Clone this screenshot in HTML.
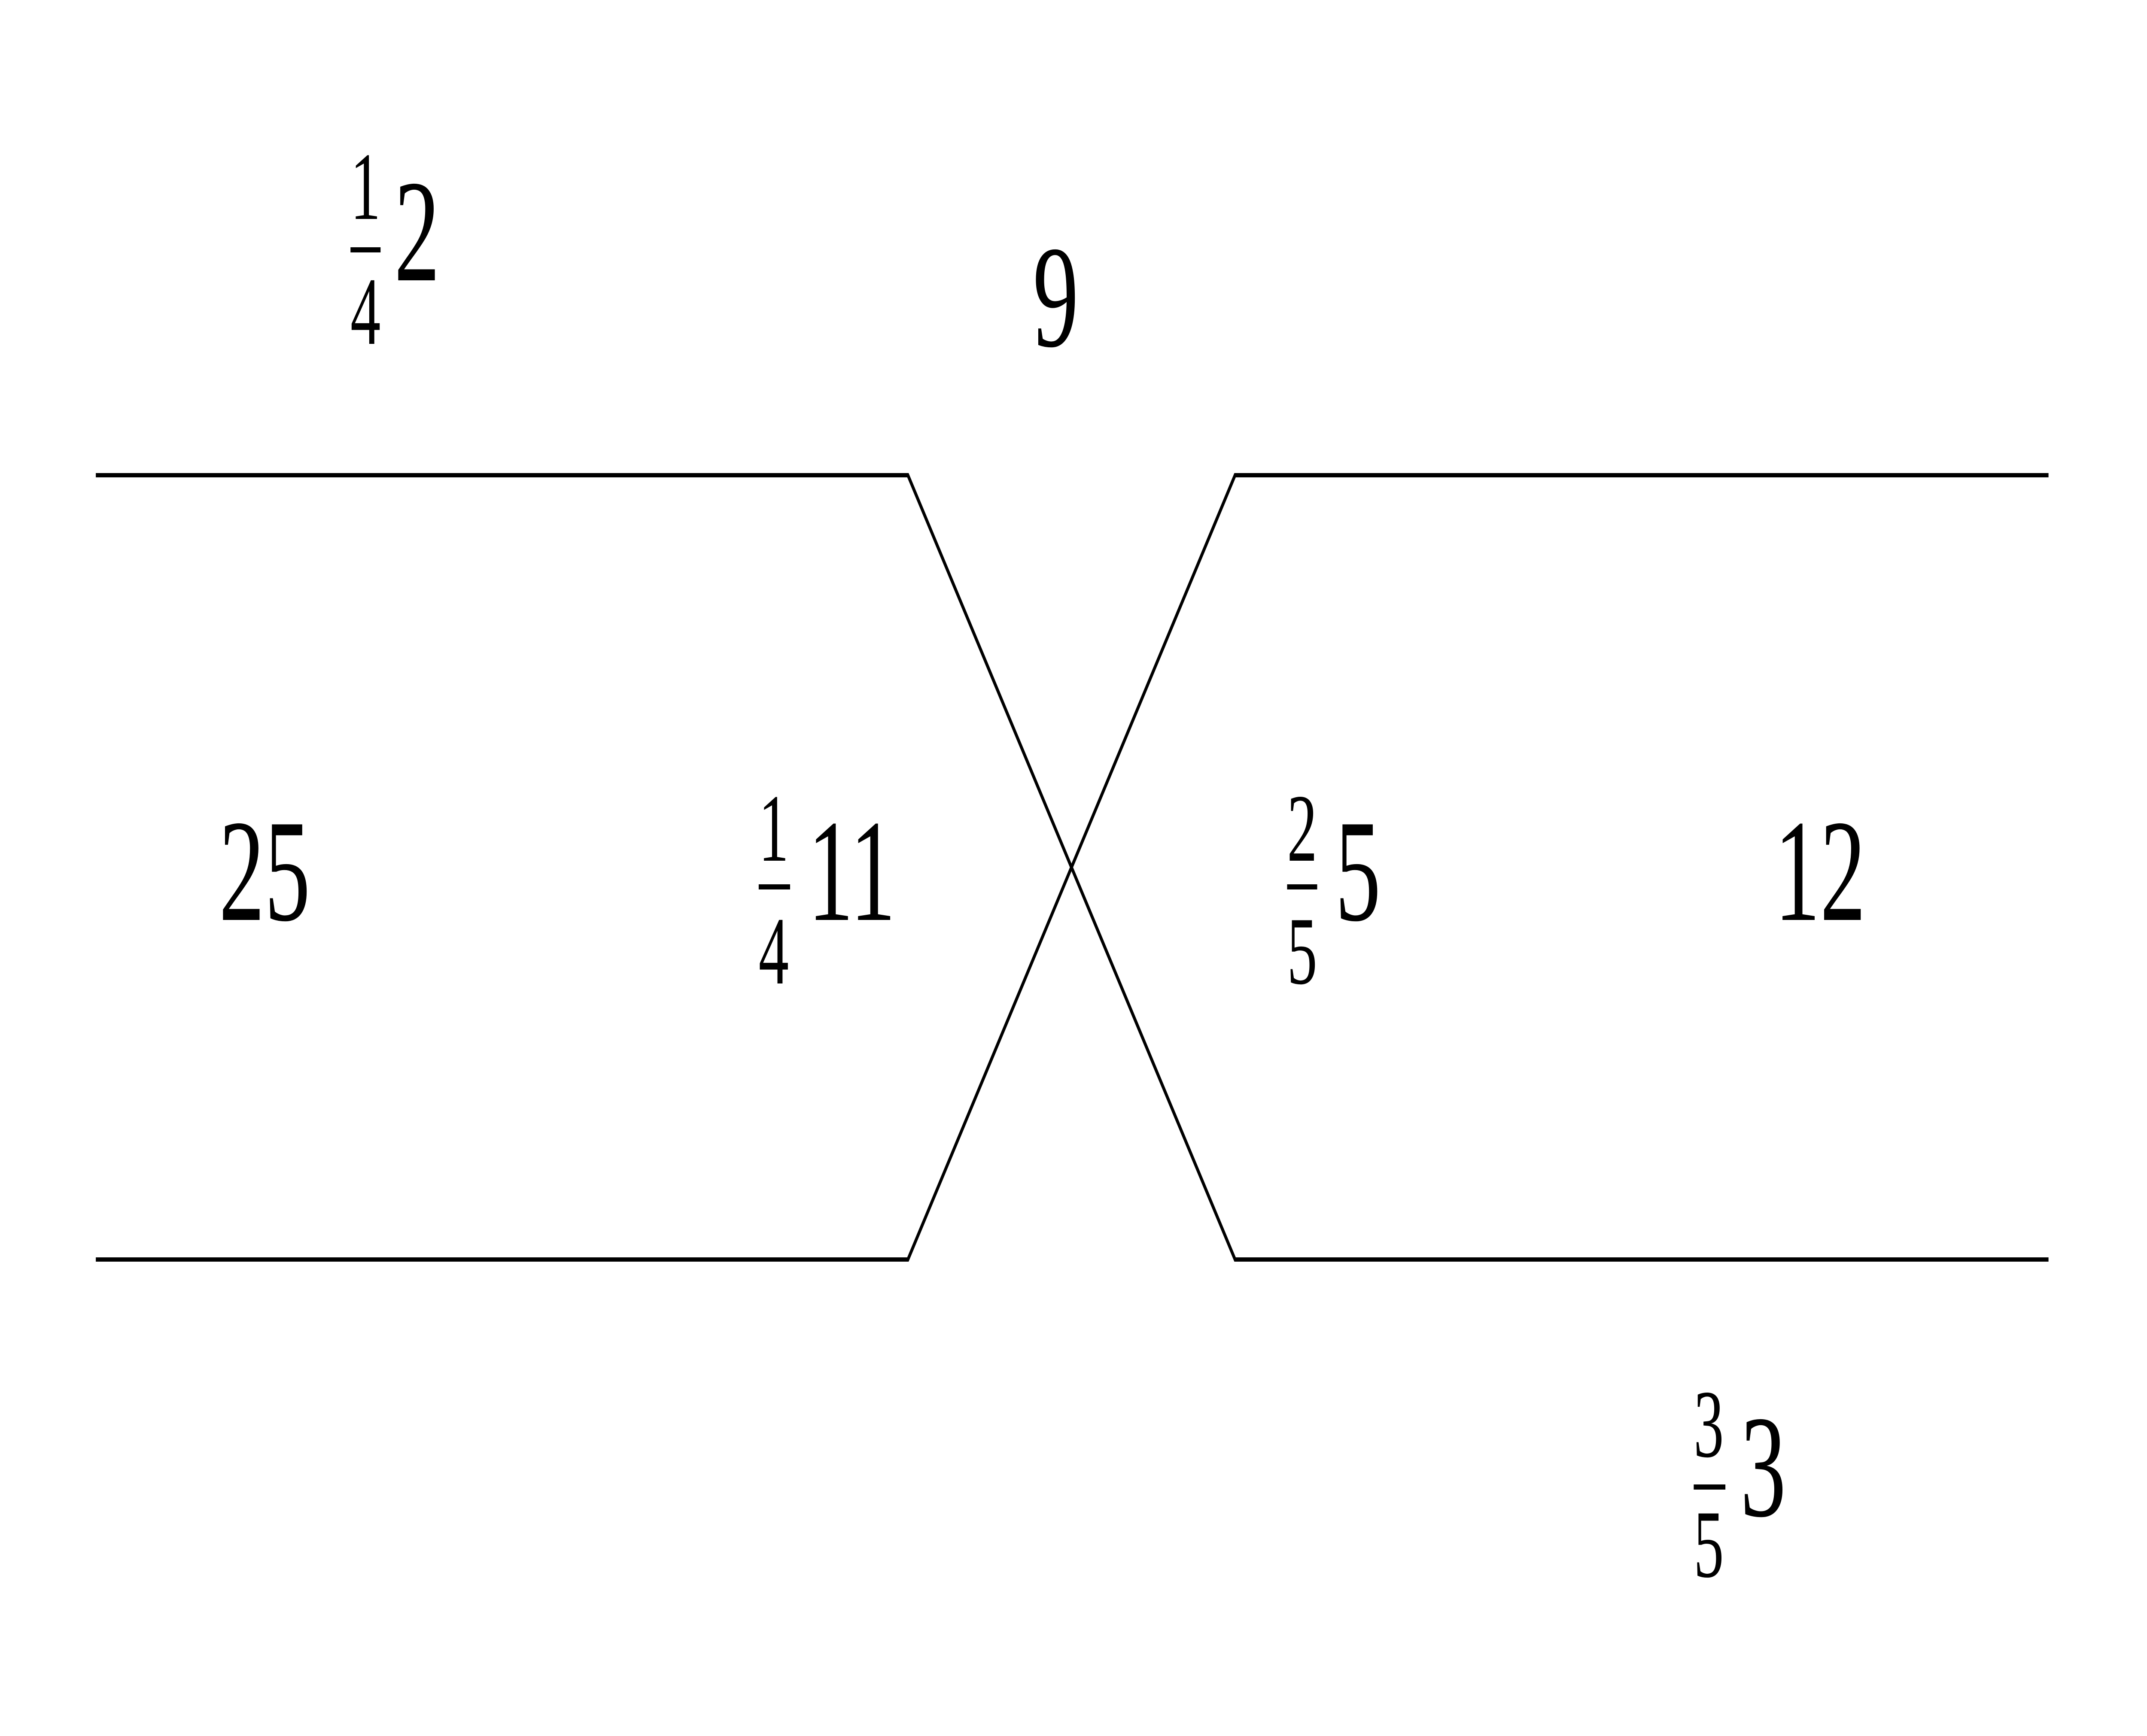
<!DOCTYPE html>
<html><head><meta charset="utf-8"><style>
html,body{margin:0;padding:0;background:#fff;width:100%;height:100%;overflow:hidden;}
svg{display:block;position:absolute;left:0;top:0;width:100vw;height:100vh;}
</style></head><body>
<svg viewBox="0 0 8000 4044" preserveAspectRatio="none" xmlns="http://www.w3.org/2000/svg" font-family="'Liberation Serif', 'Times New Roman', serif">
<g stroke="#000" stroke-width="10" fill="none" stroke-linejoin="miter">
<polyline points="357,1107 3383,1107 4602,2934 7633,2934"/>
<polyline points="357,2934 3383,2934 4602,1107 7633,1107"/>
</g>
<g stroke="#000" stroke-width="12">
<line x1="1306" y1="582" x2="1418" y2="582"/>
<line x1="2827" y1="2066" x2="2944" y2="2066"/>
<line x1="4796" y1="2066" x2="4908" y2="2066"/>
<line x1="6311" y1="3464" x2="6429" y2="3464"/>
</g>
<g fill="#000">
<text font-size="225" x="1362" y="510" text-anchor="middle">1</text>
<text font-size="225" x="1362" y="801" text-anchor="middle">4</text>
<text font-size="340" x="1469" y="653">2</text>
<text font-size="340" x="3934" y="806" text-anchor="middle">9</text>
<text font-size="340" x="816" y="2143">25</text>
<text font-size="225" x="2883" y="2005" text-anchor="middle">1</text>
<text font-size="225" x="2883" y="2291" text-anchor="middle">4</text>
<text font-size="340" x="3010" y="2143">11</text>
<text font-size="225" x="4852" y="2005" text-anchor="middle">2</text>
<text font-size="225" x="4852" y="2291" text-anchor="middle">5</text>
<text font-size="340" x="4975" y="2143">5</text>
<text font-size="340" x="6612" y="2143">12</text>
<text font-size="225" x="6367" y="3393" text-anchor="middle">3</text>
<text font-size="225" x="6367" y="3673" text-anchor="middle">5</text>
<text font-size="340" x="6485" y="3531">3</text>
</g>
</svg>
</body></html>
